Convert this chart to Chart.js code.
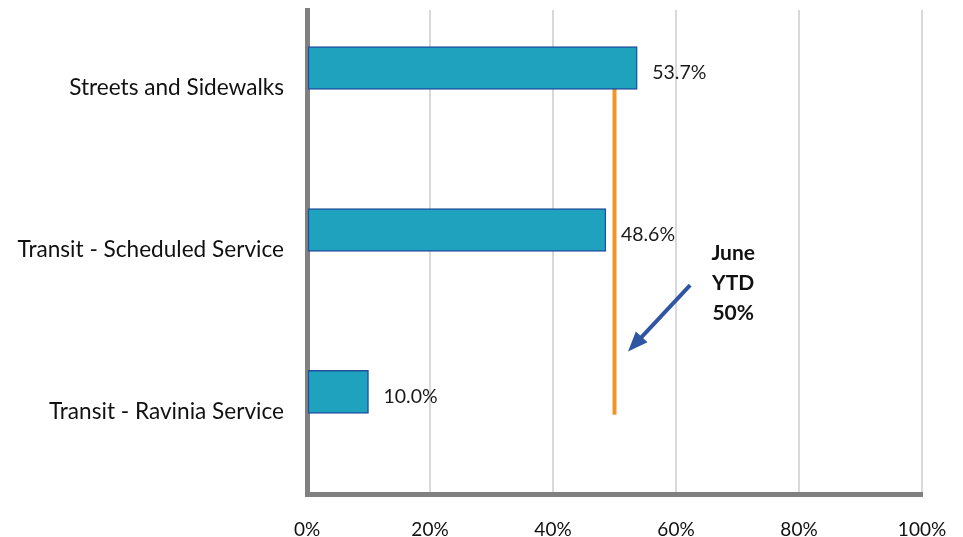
<!DOCTYPE html>
<html>
<head>
<meta charset="utf-8">
<script src="https://cdn.jsdelivr.net/npm/chart.js@4.4.1/dist/chart.umd.min.js"></script>
<style>
  html, body { margin: 0; padding: 0; background: #fff; overflow: hidden; }
  #wrap { width: 963px; height: 537px; }
</style>
</head>
<body>
<div id="wrap"><canvas id="grafico"></canvas></div>
<script>
// Categorias y porcentajes
const categories = ["Streets and Sidewalks", "Transit - Scheduled Service", "Transit - Ravinia Service"];
const values = [53.7, 48.6, 10.0];
const xTicks = [0, 20, 40, 60, 80, 100];

// Meta acumulada (linea vertical)
const targetValue = 50;
const targetSpan = [0.12, 2.14];
const targetText = ["June", "YTD", "50%"];

const FONT = "Lato, 'Open Sans', sans-serif";

// Etiquetas de valor al final de cada barra
const valueLabels = {
  id: "valueLabels",
  afterDatasetsDraw(chart) {
    const ctx = chart.ctx;
    const meta = chart.getDatasetMeta(0);
    ctx.save();
    ctx.font = "19.5px " + FONT;
    ctx.fillStyle = "#1a1a1a";
    ctx.textAlign = "left";
    ctx.textBaseline = "middle";
    meta.data.forEach((bar, i) => {
      ctx.fillText(values[i].toFixed(1) + "%", bar.x + 15, bar.y + 5);
    });
    ctx.restore();
  }
};

// Flecha y texto de la meta
const targetNote = {
  id: "targetNote",
  afterDraw(chart) {
    const ctx = chart.ctx;
    const xs = chart.scales.x, ys = chart.scales.y;
    const x0 = xs.getPixelForValue(62.3), y0 = ys.getPixelForValue(1.34);
    const x1 = xs.getPixelForValue(52.2), y1 = ys.getPixelForValue(1.75);
    const ang = Math.atan2(y1 - y0, x1 - x0);
    const head = 20, half = 8;
    ctx.save();
    ctx.strokeStyle = "#2f55a3";
    ctx.fillStyle = "#2f55a3";
    ctx.lineWidth = 4;
    ctx.beginPath();
    ctx.moveTo(x0, y0);
    ctx.lineTo(x1 - Math.cos(ang) * (head - 4), y1 - Math.sin(ang) * (head - 4));
    ctx.stroke();
    ctx.beginPath();
    ctx.moveTo(x1, y1);
    ctx.lineTo(x1 - Math.cos(ang) * head + Math.sin(ang) * half, y1 - Math.sin(ang) * head - Math.cos(ang) * half);
    ctx.lineTo(x1 - Math.cos(ang) * head - Math.sin(ang) * half, y1 - Math.sin(ang) * head + Math.cos(ang) * half);
    ctx.closePath();
    ctx.fill();

    ctx.font = "bold 21px " + FONT;
    ctx.fillStyle = "#111";
    ctx.textAlign = "center";
    ctx.textBaseline = "middle";
    const tx = xs.getPixelForValue(69.3);
    targetText.forEach((t, i) => {
      ctx.fillText(t, tx, ys.getPixelForValue(1.145 + i * 0.185));
    });
    ctx.restore();
  }
};

new Chart(document.getElementById("grafico"), {
  type: "bar",
  data: {
    datasets: [
      {
        label: "YTD",
        data: values.map((v, i) => ({ x: v, y: i })),
        backgroundColor: "#1ea2bd",
        borderColor: "#2150a0",
        borderWidth: 1.5,
        borderSkipped: false,
        barThickness: 43,
      },
      {
        type: "line",
        label: "Meta",
        data: targetSpan.map((y) => ({ x: targetValue, y: y })),
        borderColor: "#ef952b",
        borderWidth: 4,
        pointRadius: 0,
        fill: false,
      },
    ],
  },
  options: {
    indexAxis: "y",
    responsive: true,
    maintainAspectRatio: false,
    animation: false,
    layout: { padding: { top: 10, right: 41, left: 0, bottom: 0 } },
    scales: {
      x: {
        type: "linear",
        min: 0,
        max: 100,
        offset: false,
        afterBuildTicks(scale) {
          scale.ticks = xTicks.map((v) => ({ value: v }));
        },
        afterFit(scale) {
          scale.height = 43;
          scale.paddingLeft = 0;
          scale.paddingRight = 0;
        },
        grid: { color: "#d9d9d9", lineWidth: 2, drawTicks: false, offset: false },
        border: { color: "#808080", width: 5 },
        ticks: {
          padding: 24,
          color: "#111",
          font: { family: FONT, size: 19 },
          callback: (v) => v + "%",
        },
      },
      y: {
        type: "linear",
        reverse: true,
        min: -0.358,
        max: 2.63,
        offset: false,
        afterBuildTicks(scale) {
          scale.ticks = categories.map((c, i) => ({ value: i }));
        },
        afterFit(scale) {
          scale.width = 307;
          scale.paddingTop = 0;
          scale.paddingBottom = 0;
        },
        grid: { display: false, drawTicks: false, offset: false },
        border: { color: "#808080", width: 5 },
        ticks: {
          padding: 23,
          labelOffset: 20,
          color: "#111",
          font: { family: FONT, size: 22.6 },
          callback: (v) => categories[v] || "",
        },
      },
    },
    plugins: {
      legend: { display: false },
      tooltip: { enabled: false },
    },
  },
  plugins: [valueLabels, targetNote],
});
</script>
</body>
</html>
